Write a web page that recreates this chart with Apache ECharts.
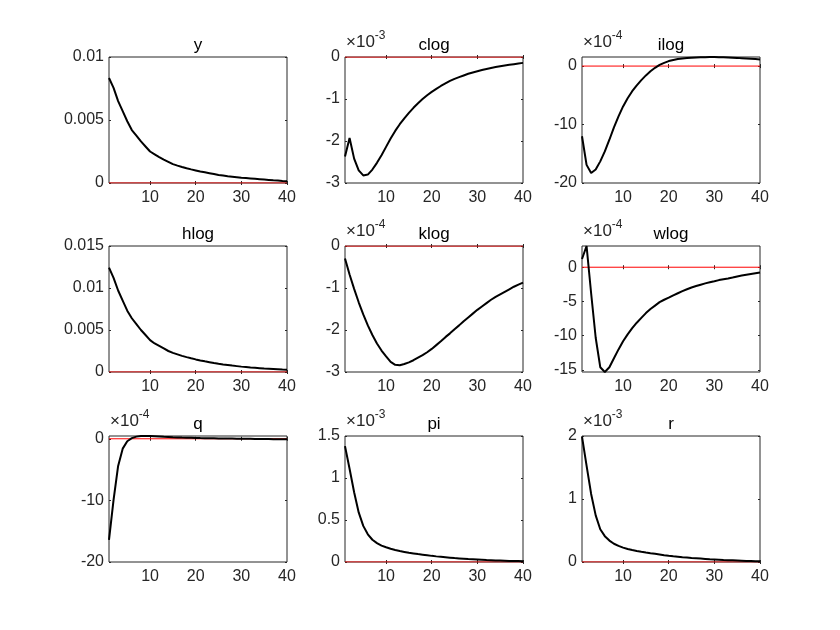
<!DOCTYPE html>
<html>
<head>
<meta charset="utf-8">
<script src="https://cdn.jsdelivr.net/npm/echarts@6/dist/echarts.min.js"></script>
<style>
  html, body { margin: 0; padding: 0; background: #fff; }
  #chart-container { width: 840px; height: 630px; }
</style>
</head>
<body>
<div id="chart-container"></div>
<script>
// ----------- IRF data (values in units of 10^exp shown on each panel) -----------
var periods = [];
for (var t = 1; t <= 40; t++) { periods.push(t); }

var panelNames = ['y', 'clog', 'ilog', 'hlog', 'klog', 'wlog', 'q', 'pi', 'r'];
var panelExp = [0, -3, -4, 0, -4, -4, -4, -3, -3];

var yVals = [0.00833, 0.00755, 0.0065, 0.0057, 0.0049, 0.0042, 0.00376, 0.0033, 0.0029, 0.0025,
    0.00228, 0.00206, 0.00186, 0.00168, 0.0015, 0.00138, 0.00127, 0.00117, 0.00108, 0.001,
    0.00092, 0.00085, 0.00078, 0.00071, 0.00064, 0.00059, 0.00054, 0.0005, 0.00046, 0.00042,
    0.00039, 0.00036, 0.00033, 0.0003, 0.00027, 0.00024, 0.00021, 0.00019, 0.00016, 0.00014];
var clogVals = [-2.37, -1.93, -2.42, -2.7, -2.82, -2.8, -2.68, -2.52, -2.34, -2.14,
    -1.94, -1.76, -1.6, -1.46, -1.33, -1.21, -1.1, -1.0, -0.91, -0.83,
    -0.76, -0.69, -0.63, -0.57, -0.52, -0.48, -0.44, -0.4, -0.37, -0.34,
    -0.31, -0.285, -0.26, -0.24, -0.22, -0.2, -0.185, -0.17, -0.155, -0.14];
var ilogVals = [-12.0, -16.9, -18.3, -17.7, -16.3, -14.6, -12.6, -10.5, -8.6, -6.9,
    -5.5, -4.3, -3.3, -2.4, -1.6, -0.9, -0.3, 0.2, 0.55, 0.85,
    1.05, 1.2, 1.3, 1.38, 1.43, 1.47, 1.5, 1.52, 1.53, 1.53,
    1.52, 1.5, 1.47, 1.44, 1.4, 1.35, 1.3, 1.25, 1.2, 1.14];
var hlogVals = [0.01243, 0.0112, 0.0097, 0.0085, 0.0073, 0.0064, 0.0057, 0.005, 0.0044, 0.0038,
    0.0034, 0.0031, 0.0028, 0.0025, 0.00228, 0.0021, 0.00192, 0.00177, 0.00163, 0.0015,
    0.00138, 0.00127, 0.00117, 0.00107, 0.00098, 0.0009, 0.00083, 0.00076, 0.0007, 0.00064,
    0.00059, 0.00054, 0.0005, 0.00046, 0.00042, 0.00039, 0.00036, 0.00033, 0.0003, 0.00028];
var klogVals = [-0.3, -0.68, -1.02, -1.34, -1.63, -1.89, -2.12, -2.32, -2.49, -2.63,
    -2.76, -2.83, -2.84, -2.81, -2.77, -2.72, -2.66, -2.6, -2.53, -2.45,
    -2.36, -2.27, -2.17, -2.08, -1.98, -1.89, -1.79, -1.7, -1.61, -1.52,
    -1.44, -1.36, -1.28, -1.21, -1.15, -1.09, -1.03, -0.97, -0.92, -0.87];
var wlogVals = [1.2, 3.1, -3.8, -10.3, -14.6, -15.3, -14.6, -13.3, -12.0, -10.8,
    -9.8, -8.9, -8.1, -7.4, -6.7, -6.1, -5.6, -5.1, -4.75, -4.45,
    -4.1, -3.8, -3.5, -3.22, -2.96, -2.75, -2.55, -2.36, -2.2, -2.05,
    -1.88, -1.76, -1.64, -1.5, -1.35, -1.22, -1.1, -0.98, -0.87, -0.76];
var qVals = [-16.4, -9.9, -4.4, -1.6, -0.4, 0.1, 0.35, 0.45, 0.45, 0.45,
    0.42, 0.38, 0.33, 0.29, 0.25, 0.22, 0.19, 0.17, 0.15, 0.13,
    0.11, 0.1, 0.08, 0.07, 0.06, 0.05, 0.04, 0.03, 0.02, 0.01,
    0, -0.01, -0.02, -0.03, -0.04, -0.05, -0.06, -0.07, -0.08, -0.09];
var piVals = [1.38, 1.11, 0.83, 0.59, 0.43, 0.33, 0.265, 0.225, 0.195, 0.175,
    0.157, 0.142, 0.13, 0.12, 0.11, 0.102, 0.094, 0.087, 0.08, 0.073,
    0.067, 0.062, 0.057, 0.052, 0.047, 0.043, 0.039, 0.035, 0.032, 0.029,
    0.026, 0.023, 0.021, 0.019, 0.017, 0.015, 0.013, 0.012, 0.011, 0.01];
var rVals = [1.99, 1.53, 1.08, 0.74, 0.52, 0.41, 0.34, 0.29, 0.255, 0.228,
    0.207, 0.19, 0.176, 0.163, 0.151, 0.14, 0.13, 0.12, 0.108, 0.098,
    0.09, 0.083, 0.076, 0.07, 0.064, 0.059, 0.054, 0.049, 0.044, 0.04,
    0.036, 0.032, 0.029, 0.026, 0.023, 0.02, 0.017, 0.015, 0.012, 0.01];

var panelData = [yVals, clogVals, ilogVals, hlogVals, klogVals, wlogVals, qVals, piVals, rVals];

// tick labels
var xTicks = [10, 20, 30, 40];
var yTicks = [
    [0, 0.005, 0.01],
    [-3, -2, -1, 0],
    [-20, -10, 0],
    [0, 0.005, 0.01, 0.015],
    [-3, -2, -1, 0],
    [-15, -10, -5, 0],
    [-20, -10, 0],
    [0, 0.5, 1, 1.5],
    [0, 1, 2]
];
var yLimits = [
    [0, 0.01], [-3, 0], [-20, 1.55],
    [0, 0.015], [-3, 0], [-15.3, 3.1],
    [-20, 0.45], [0, 1.5], [0, 2]
];

// ----------- layout -----------
var colLeft = [109, 345, 582];
var rowTop = [57, 246, 436];
var plotW = 178;
var plotH = 126;
var axisColor = '#262626';
var fontFam = 'Liberation Sans, Arial, sans-serif';

var grids = [], xAxes = [], yAxes = [], titles = [], series = [];

for (var i = 0; i < 9; i++) {
    var col = i % 3, row = Math.floor(i / 3);
    grids.push({
        left: colLeft[col], top: rowTop[row], width: plotW, height: plotH,
        show: true, borderColor: axisColor, borderWidth: 1, backgroundColor: '#fff',
        containLabel: false
    });
    titles.push({
        text: panelNames[i],
        left: colLeft[col] + plotW / 2,
        top: rowTop[row] - 20,
        textAlign: 'center',
        padding: 0,
        textStyle: { fontSize: 17, fontWeight: 'normal', color: '#000', fontFamily: fontFam }
    });
}

// bottom / left axes with labels
for (var i = 0; i < 9; i++) {
    xAxes.push({
        type: 'value', gridIndex: i, min: 1, max: 40, position: 'bottom',
        axisLine: { show: false },
        splitLine: { show: false },
        axisTick: { inside: true, length: 2, customValues: xTicks, lineStyle: { color: axisColor } },
        axisLabel: { customValues: xTicks, fontSize: 16, color: axisColor, margin: 7, fontFamily: fontFam }
    });
    var yAx = {
        type: 'value', gridIndex: i, min: yLimits[i][0], max: yLimits[i][1], position: 'left',
        axisLine: { show: false },
        splitLine: { show: false },
        axisTick: { inside: true, length: 2, customValues: yTicks[i], lineStyle: { color: axisColor } },
        axisLabel: { customValues: yTicks[i], fontSize: 16, color: axisColor, margin: 5, fontFamily: fontFam }
    };
    if (panelExp[i] !== 0) {
        yAx.name = '{a|\u00d710}{b|' + panelExp[i] + '}';
        yAx.nameLocation = 'end';
        yAx.nameGap = 3;
        yAx.nameTextStyle = {
            align: 'left', verticalAlign: 'bottom', padding: [0, 0, 0, 1],
            rich: {
                a: { fontSize: 17, color: axisColor, fontFamily: fontFam },
                b: { fontSize: 12, color: axisColor, fontFamily: fontFam, padding: [0, 0, 12, 0] }
            }
        };
    }
    yAxes.push(yAx);
}
// top / right axes: ticks only (MATLAB box)
for (var i = 0; i < 9; i++) {
    xAxes.push({
        type: 'value', gridIndex: i, min: 1, max: 40, position: 'top',
        axisLine: { show: false }, splitLine: { show: false },
        axisLabel: { show: false },
        axisTick: { inside: true, length: 2, customValues: xTicks, lineStyle: { color: axisColor } }
    });
    yAxes.push({
        type: 'value', gridIndex: i, min: yLimits[i][0], max: yLimits[i][1], position: 'right',
        axisLine: { show: false }, splitLine: { show: false },
        axisLabel: { show: false },
        axisTick: { inside: true, length: 2, customValues: yTicks[i], lineStyle: { color: axisColor } }
    });
}

// zero line (red) and impulse response (black)
for (var i = 0; i < 9; i++) {
    series.push({
        type: 'line', xAxisIndex: i, yAxisIndex: i,
        data: [[1, 0], [40, 0]],
        symbol: 'none', silent: true,
        lineStyle: { color: '#ff0000', width: 1 }
    });
    var pts = [];
    for (var k = 0; k < periods.length; k++) {
        pts.push([periods[k], panelData[i][k]]);
    }
    series.push({
        type: 'line', xAxisIndex: i, yAxisIndex: i,
        data: pts,
        symbol: 'none', silent: true,
        lineStyle: { color: '#000', width: 2 }
    });
}

var chart = echarts.init(document.getElementById('chart-container'));
chart.setOption({
    backgroundColor: '#fff',
    animation: false,
    title: titles,
    grid: grids,
    xAxis: xAxes,
    yAxis: yAxes,
    series: series
});
</script>
</body>
</html>
